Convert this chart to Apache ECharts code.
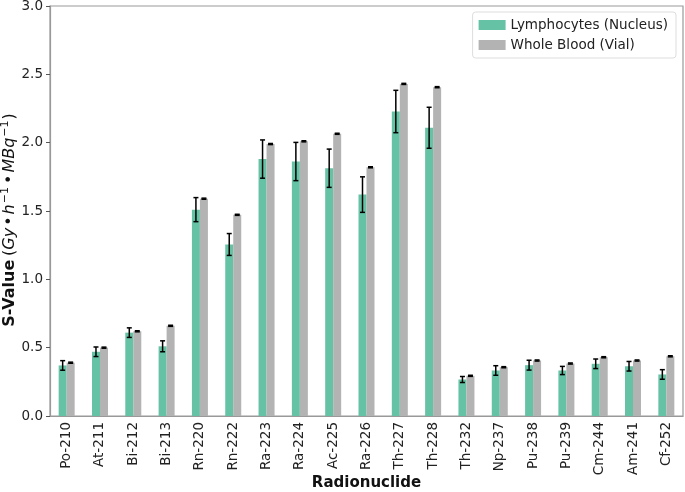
<!DOCTYPE html>
<html><head><meta charset="utf-8">
<script src="https://cdn.jsdelivr.net/npm/echarts@6/dist/echarts.min.js"></script>
<style>html,body{margin:0;padding:0;background:#fff}#c{width:685px;height:492px}</style>
</head><body><div id="c"></div>
<script>
const categories = ['Po-210','At-211','Bi-212','Bi-213','Rn-220','Rn-222','Ra-223','Ra-224','Ac-225','Ra-226','Th-227','Th-228','Th-232','Np-237','Pu-238','Pu-239','Cm-244','Am-241','Cf-252'];
const lymphocytes = [0.37,0.47,0.61,0.51,1.51,1.255,1.88,1.862,1.813,1.62,2.228,2.109,0.267,0.333,0.372,0.333,0.382,0.364,0.304];
const lymphErr    = [0.035,0.035,0.035,0.04,0.088,0.08,0.14,0.14,0.14,0.13,0.155,0.15,0.022,0.035,0.036,0.03,0.035,0.035,0.035];
const wholeBlood  = [0.39,0.50,0.62,0.66,1.59,1.472,1.99,2.01,2.065,1.82,2.43,2.406,0.294,0.357,0.406,0.384,0.43,0.406,0.437];
const bloodErr    = [0.004,0.004,0.004,0.004,0.004,0.004,0.004,0.004,0.004,0.004,0.004,0.004,0.004,0.004,0.004,0.004,0.004,0.004,0.004];
const yTicks = {min:0, max:3, interval:0.5};

const FONT = 'DejaVu Sans';
const BW = 8;
function errSeries(vals, errs, off){
  return {
    type:'custom', z:10,
    data: vals.map((v,i)=>[i, v-errs[i], v+errs[i]]),
    renderItem(params, api){
      const i = api.value(0);
      const lo = api.coord([i, api.value(1)]);
      const hi = api.coord([i, api.value(2)]);
      const x = lo[0] + off;
      const cw = 2.5;
      const st = {stroke:'#000', lineWidth:1.5};
      return {type:'group', children:[
        {type:'line', shape:{x1:x,y1:lo[1],x2:x,y2:hi[1]}, style:st},
        {type:'line', shape:{x1:x-cw,y1:lo[1],x2:x+cw,y2:lo[1]}, style:st},
        {type:'line', shape:{x1:x-cw,y1:hi[1],x2:x+cw,y2:hi[1]}, style:st}
      ]};
    },
    silent:true, tooltip:{show:false}
  };
}
const chart = echarts.init(document.getElementById('c'), null, {renderer:'canvas'});
chart.setOption({
  animation:false,
  textStyle:{fontFamily:FONT},
  grid:{left:50, right:2, top:6, bottom:76, containLabel:false, outerBoundsMode:'none',
        show:true, borderColor:'#999', borderWidth:1.2, backgroundColor:'transparent'},
  legend:{
    orient:'vertical', right:9, top:12,
    itemWidth:27, itemHeight:10, itemGap:6,
    backgroundColor:'#fff', borderColor:'#ddd', borderWidth:1, borderRadius:3,
    padding:[6,8,6,6],
    textStyle:{fontFamily:FONT, fontSize:13.5, color:'#222'},
    data:[{name:'Lymphocytes (Nucleus)', icon:'rect'},{name:'Whole Blood (Vial)', icon:'rect'}]
  },
  xAxis:{
    type:'category', data:categories,
    axisLine:{lineStyle:{color:'#999', width:1.2}},
    axisTick:{alignWithLabel:true, length:4, lineStyle:{color:'#555'}},
    axisLabel:{rotate:90, fontFamily:FONT, fontSize:13.5, color:'#222', margin:6},
    name:'Radionuclide', nameLocation:'middle', nameGap:60, nameMoveOverlap:false,
    nameTextStyle:{fontFamily:FONT, fontSize:15, fontWeight:'bold', color:'#111'}
  },
  yAxis:{
    type:'value', min:yTicks.min, max:yTicks.max, interval:yTicks.interval,
    splitLine:{show:false},
    axisLine:{show:true, lineStyle:{color:'#999', width:1.2}},
    axisTick:{show:true, length:4, lineStyle:{color:'#555'}},
    axisLabel:{fontFamily:FONT, fontSize:13.5, color:'#222', margin:7, formatter:v=>v.toFixed(1)},
    name:'{b|S-Value} {n|(}{i|Gy}{o|•}{i|h}{s|−1}{o|•}{i|MBq}{s|−1}{n|)}', nameLocation:'middle', nameGap:31, nameRotate:90, nameMoveOverlap:false,
    nameTextStyle:{padding:[0,18,0,0], rich:{
      b:{fontFamily:FONT, fontSize:16, fontWeight:'bold', color:'#111'},
      n:{fontFamily:FONT, fontSize:16, color:'#111'},
      o:{fontFamily:FONT, fontSize:16, color:'#111', padding:[0,2,0,2]},
      i:{fontFamily:FONT, fontSize:16, fontStyle:'italic', color:'#111'},
      s:{fontFamily:FONT, fontSize:11, color:'#111', padding:[0,1,8,1]}
    }}
  },
  series:[
    {name:'Lymphocytes (Nucleus)', type:'bar', data:lymphocytes, barWidth:BW, barGap:'0%', itemStyle:{color:'#66c2a5'}},
    {name:'Whole Blood (Vial)', type:'bar', data:wholeBlood, barWidth:BW, barGap:'0%', itemStyle:{color:'#b3b3b3'}},
    errSeries(lymphocytes, lymphErr, -BW/2),
    errSeries(wholeBlood, bloodErr, BW/2)
  ]
});
</script></body></html>
